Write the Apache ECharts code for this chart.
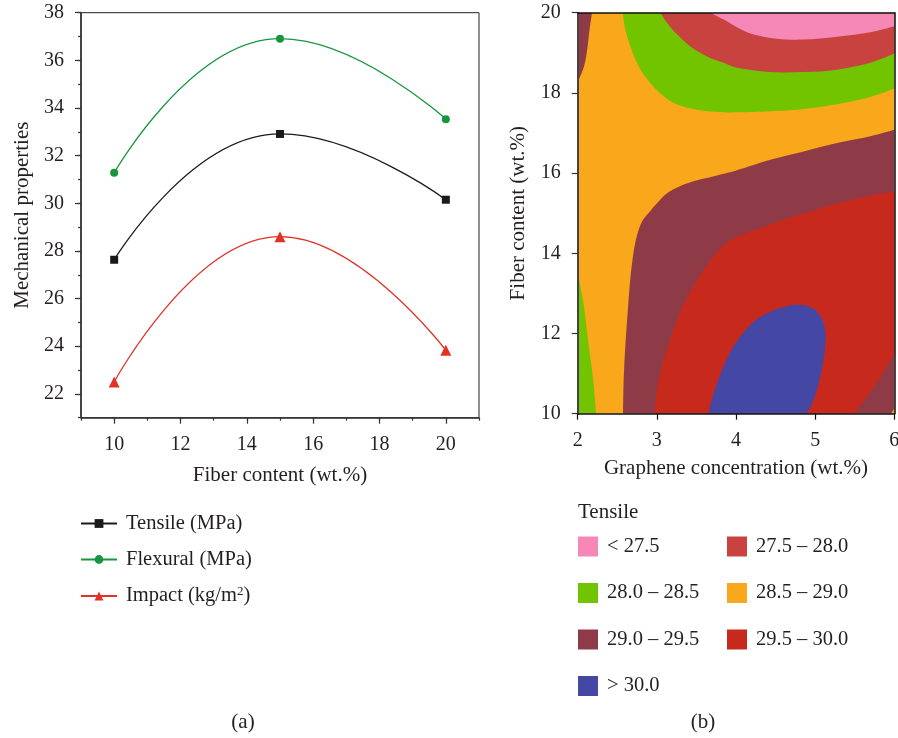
<!DOCTYPE html>
<html>
<head>
<meta charset="utf-8">
<script src="https://cdn.jsdelivr.net/npm/echarts@6/dist/echarts.min.js"></script>
<style>
html,body{margin:0;padding:0;background:#fff;}
#chart{width:898px;height:738px;}
</style>
</head>
<body>
<div id="chart"></div>
<script>
// ---------- Panel (a) data ----------
const fiberContent = [10, 15, 20];
const tensile = [27.63, 32.91, 30.15];
const flexural = [31.28, 36.91, 33.53];
const impact = [22.5, 28.6, 23.83];
const xTicksA = [10, 12, 14, 16, 18, 20];
const yTicksA = [22, 24, 26, 28, 30, 32, 34, 36, 38];

// ---------- Panel (b) data: contour band boundaries (graphene wt.%, fiber wt.%) ----------
const classNames = ['< 27.5', '27.5 – 28.0', '28.0 – 28.5', '28.5 – 29.0', '29.0 – 29.5', '29.5 – 30.0', '> 30.0'];
const edgeOrangeMaroon = [[2.573,10],[2.581,10.87],[2.602,11.71],[2.632,12.54],[2.665,13.37],[2.707,14.04],[2.75,14.45],[2.813,14.79],[2.893,15.0],[3.002,15.25],[3.129,15.50],[3.297,15.68],[3.508,15.82],[3.76,15.94],[4.013,16.07],[4.434,16.33],[4.855,16.54],[5.276,16.75],[5.697,16.92],[6.0,17.08]];
const edgeRedMaroon = [[2.969,10],[3.002,10.62],[3.066,11.21],[3.171,11.87],[3.297,12.54],[3.466,13.20],[3.634,13.70],[3.80,14.12],[4.013,14.41],[4.434,14.72],[4.75,14.93],[5.0,15.08],[5.276,15.24],[5.697,15.44],[6.0,15.55]];
const edgeMaroonCorner = [[6.0,11.50],[5.866,11.04],[5.697,10.54],[5.495,10.0]];
const edgeBlue = [[3.655,10],[3.697,10.37],[3.781,10.87],[3.887,11.37],[4.013,11.81],[4.223,12.29],[4.434,12.54],[4.644,12.68],[4.813,12.72],[4.981,12.62],[5.086,12.37],[5.129,12.04],[5.129,11.71],[5.086,11.12],[5.002,10.46],[4.897,10.0]];
const edgeOrangeCorner = [[5.958,10],[6,10],[6,10.13]];
const edgeGreenSliver = [[2.0,13.50],[2.076,12.71],[2.139,11.71],[2.194,10.87],[2.232,10.0]];
const edgeGreenOuter = [[2.569,20],[2.602,19.58],[2.665,19.164],[2.771,18.66],[2.918,18.25],[3.087,17.915],[3.255,17.708],[3.508,17.58],[3.76,17.525],[4.013,17.515],[4.434,17.54],[4.855,17.60],[5.276,17.72],[5.697,17.90],[6.0,18.11]];
const edgeGreenInner = [[3.044,20],[3.129,19.75],[3.255,19.46],[3.423,19.16],[3.634,18.91],[3.845,18.75],[4.013,18.63],[4.434,18.52],[4.855,18.52],[5.276,18.58],[5.697,18.75],[6.0,18.98]];
const edgePink = [[3.676,20],[3.845,19.83],[4.013,19.64],[4.223,19.455],[4.518,19.35],[4.855,19.33],[5.276,19.40],[5.697,19.51],[6.0,19.66]];
const edgeMaroonSliver = [[2.18,20],[2.15,19.58],[2.12,19.08],[2.08,18.66],[2.0,18.27]];
const plotCorners = [[2,10],[6,10],[6,20],[2,20]];

// ---------- styles ----------
const FONT = 'Liberation Serif';
const TXT = '#231f20';
const classColors = {
  '< 27.5': '#f588b7',
  '27.5 – 28.0': '#c8433f',
  '28.0 – 28.5': '#72c300',
  '28.5 – 29.0': '#f8a81a',
  '29.0 – 29.5': '#8e3b47',
  '29.5 – 30.0': '#c8291d',
  '> 30.0': '#4447a3'
};

// region = [className, parts]; part = [points, smooth]
const regions = [
  ['28.5 – 29.0', [[plotCorners, false]]],
  ['29.0 – 29.5', [[edgeOrangeMaroon, true], [[[6,10]], false]]],
  ['29.5 – 30.0', [[edgeRedMaroon, true], [edgeMaroonCorner, true]]],
  ['> 30.0', [[edgeBlue, true]]],
  ['28.5 – 29.0', [[edgeOrangeCorner, false]]],
  ['28.0 – 28.5', [[edgeGreenSliver, true], [[[2,10]], false]]],
  ['28.0 – 28.5', [[edgeGreenOuter, true], [[[6,20]], false]]],
  ['27.5 – 28.0', [[edgeGreenInner, true], [[[6,20]], false]]],
  ['< 27.5', [[edgePink, true], [[[6,20]], false]]],
  ['29.0 – 29.5', [[edgeMaroonSliver, true], [[[2,20]], false]]]
];

function buildPath(parts, api) {
  let d = '';
  parts.forEach(function (part, k) {
    const pts = part[0].map(function (p) { return api.coord(p); });
    d += (k === 0 ? 'M' : 'L') + pts[0][0].toFixed(2) + ' ' + pts[0][1].toFixed(2);
    if (part[1] && pts.length > 2) {
      for (let i = 0; i < pts.length - 1; i++) {
        const p0 = pts[Math.max(i - 1, 0)], p1 = pts[i], p2 = pts[i + 1], p3 = pts[Math.min(i + 2, pts.length - 1)];
        const c1x = p1[0] + (p2[0] - p0[0]) / 6, c1y = p1[1] + (p2[1] - p0[1]) / 6;
        const c2x = p2[0] - (p3[0] - p1[0]) / 6, c2y = p2[1] - (p3[1] - p1[1]) / 6;
        d += 'C' + c1x.toFixed(2) + ' ' + c1y.toFixed(2) + ' ' + c2x.toFixed(2) + ' ' + c2y.toFixed(2) + ' ' + p2[0].toFixed(2) + ' ' + p2[1].toFixed(2);
      }
    } else {
      for (let i = 1; i < pts.length; i++) d += 'L' + pts[i][0].toFixed(2) + ' ' + pts[i][1].toFixed(2);
    }
  });
  return d + 'Z';
}

const contourSeries = regions.map(function (r) {
  const color = classColors[r[0]];
  return {
    name: r[0], type: 'custom', xAxisIndex: 3, yAxisIndex: 2, clip: true, silent: true,
    itemStyle: { color: color },
    data: [[4, 15]],
    renderItem: function (params, api) {
      return { type: 'path', shape: { pathData: buildPath(r[1], api) }, style: { fill: color, stroke: null } };
    }
  };
});

const chart = echarts.init(document.getElementById('chart'), null, { renderer: 'canvas' });
const axisText = { fontFamily: FONT, fontSize: 20, color: TXT };
const nameText = { fontFamily: FONT, fontSize: 21, color: TXT };
const legendText = { fontFamily: FONT, fontSize: 20.5, color: TXT, padding: [0, 0, 0, 4] };

chart.setOption({
  animation: false,
  backgroundColor: '#fff',
  title: [{ text: 'Tensile', left: 578, top: 502, padding: 0, textStyle: { fontFamily: FONT, fontSize: 21, fontWeight: 'normal', color: TXT } }],
  graphic: [
    { type: 'text', x: 243, y: 722, style: { text: '(a)', font: '21px "Liberation Serif"', fill: TXT, align: 'center', verticalAlign: 'middle' } },
    { type: 'text', x: 703, y: 722, style: { text: '(b)', font: '21px "Liberation Serif"', fill: TXT, align: 'center', verticalAlign: 'middle' } }
  ],
  grid: [
    { left: 81, top: 12.7, width: 398, height: 405, show: true, borderColor: '#222', borderWidth: 1, outerBoundsMode: 'none', containLabel: false },
    { left: 577.7, top: 12.7, width: 316.6, height: 401, outerBoundsMode: 'none', containLabel: false }
  ],
  legend: [
    { data: ['Tensile (MPa)', 'Flexural (MPa)', 'Impact (kg/m2)'], orient: 'vertical', left: 80, top: 513, padding: 0, itemWidth: 36, itemHeight: 11, itemGap: 15,
      formatter: function (n) { return n === 'Impact (kg/m2)' ? 'Impact (kg/m{sup|2})' : n; },
      textStyle: Object.assign({ rich: { sup: { fontFamily: FONT, fontSize: 13, verticalAlign: 'top', padding: [0, 0, 9, 0] } } }, legendText) },
    { data: ['< 27.5', '28.0 – 28.5', '29.0 – 29.5', '> 30.0'], orient: 'vertical', left: 578, top: 536, padding: 0, icon: 'rect', itemWidth: 20, itemHeight: 20, itemGap: 25.5,
      textStyle: legendText },
    { data: ['27.5 – 28.0', '28.5 – 29.0', '29.5 – 30.0'], orient: 'vertical', left: 727, top: 536, padding: 0, icon: 'rect', itemWidth: 20, itemHeight: 20, itemGap: 25.5,
      textStyle: legendText }
  ],
  xAxis: [
    { gridIndex: 0, type: 'value', min: 9, max: 21, interval: 1, position: 'bottom',
      axisLine: { show: true, lineStyle: { color: '#333', width: 1.6 } },
      axisTick: { show: true, length: 3, lineStyle: { color: '#333', width: 1.2 } },
      axisLabel: { show: false }, splitLine: { show: false } },
    { gridIndex: 0, type: 'value', min: 9, max: 21, position: 'bottom',
      name: 'Fiber content (wt.%)', nameLocation: 'middle', nameGap: 47, nameTextStyle: nameText,
      axisLine: { show: false },
      axisTick: { show: true, length: 6, customValues: xTicksA, lineStyle: { color: '#333', width: 1.2 } },
      axisLabel: Object.assign({ customValues: xTicksA, margin: 17 }, axisText), splitLine: { show: false } },
    { gridIndex: 0, type: 'value', min: 9, max: 21, position: 'top', show: false },
    { gridIndex: 1, type: 'value', min: 2, max: 6, interval: 1, position: 'bottom', z: 10,
      name: 'Graphene concentration (wt.%)', nameLocation: 'middle', nameGap: 44, nameTextStyle: nameText,
      axisLine: { show: true, lineStyle: { color: '#111', width: 1.5 } },
      axisTick: { show: true, length: 6, lineStyle: { color: '#111', width: 1.2 } },
      axisLabel: Object.assign({ margin: 17 }, axisText), splitLine: { show: false } },
    { gridIndex: 1, type: 'value', min: 2, max: 6, position: 'top', z: 10,
      axisLine: { show: true, lineStyle: { color: '#111', width: 1.5 } },
      axisTick: { show: false }, axisLabel: { show: false }, splitLine: { show: false } }
  ],
  yAxis: [
    { gridIndex: 0, type: 'value', min: 21, max: 38, interval: 1, position: 'left',
      axisLine: { show: true, lineStyle: { color: '#333', width: 1.6 } },
      axisTick: { show: true, length: 3, lineStyle: { color: '#333', width: 1.2 } },
      axisLabel: { show: false }, splitLine: { show: false } },
    { gridIndex: 0, type: 'value', min: 21, max: 38, position: 'left',
      name: 'Mechanical properties', nameLocation: 'middle', nameGap: 48, nameTextStyle: nameText,
      axisLine: { show: false },
      axisTick: { show: true, length: 6, customValues: yTicksA, lineStyle: { color: '#333', width: 1.2 } },
      axisLabel: Object.assign({ customValues: yTicksA, margin: 17 }, axisText), splitLine: { show: false } },
    { gridIndex: 1, type: 'value', min: 10, max: 20, interval: 2, position: 'left', z: 10,
      name: 'Fiber content (wt.%)', nameLocation: 'middle', nameGap: 49, nameTextStyle: nameText,
      axisLine: { show: true, lineStyle: { color: '#444', width: 2 } },
      axisTick: { show: true, length: 6, lineStyle: { color: '#333', width: 1.2 } },
      axisLabel: Object.assign({ margin: 17 }, axisText), splitLine: { show: false } },
    { gridIndex: 1, type: 'value', min: 10, max: 20, position: 'right', z: 10,
      axisLine: { show: true, lineStyle: { color: '#111', width: 1.5 } },
      axisTick: { show: false }, axisLabel: { show: false }, splitLine: { show: false } }
  ],
  series: [
    { name: 'Tensile (MPa)', type: 'line', xAxisIndex: 0, yAxisIndex: 0, smooth: true,
      data: fiberContent.map(function (f, i) { return [f, tensile[i]]; }),
      symbol: 'rect', symbolSize: 8, lineStyle: { color: '#1a1a1a', width: 1.3 }, itemStyle: { color: '#1a1a1a' } },
    { name: 'Flexural (MPa)', type: 'line', xAxisIndex: 0, yAxisIndex: 0, smooth: true,
      data: fiberContent.map(function (f, i) { return [f, flexural[i]]; }),
      symbol: 'circle', symbolSize: 8, lineStyle: { color: '#17963e', width: 1.3 }, itemStyle: { color: '#17963e' } },
    { name: 'Impact (kg/m2)', type: 'line', xAxisIndex: 0, yAxisIndex: 0, smooth: true,
      data: fiberContent.map(function (f, i) { return [f, impact[i]]; }),
      symbol: 'triangle', symbolSize: 11, lineStyle: { color: '#e23226', width: 1.3 }, itemStyle: { color: '#e23226' } }
  ].concat(contourSeries)
});
</script>
</body>
</html>
